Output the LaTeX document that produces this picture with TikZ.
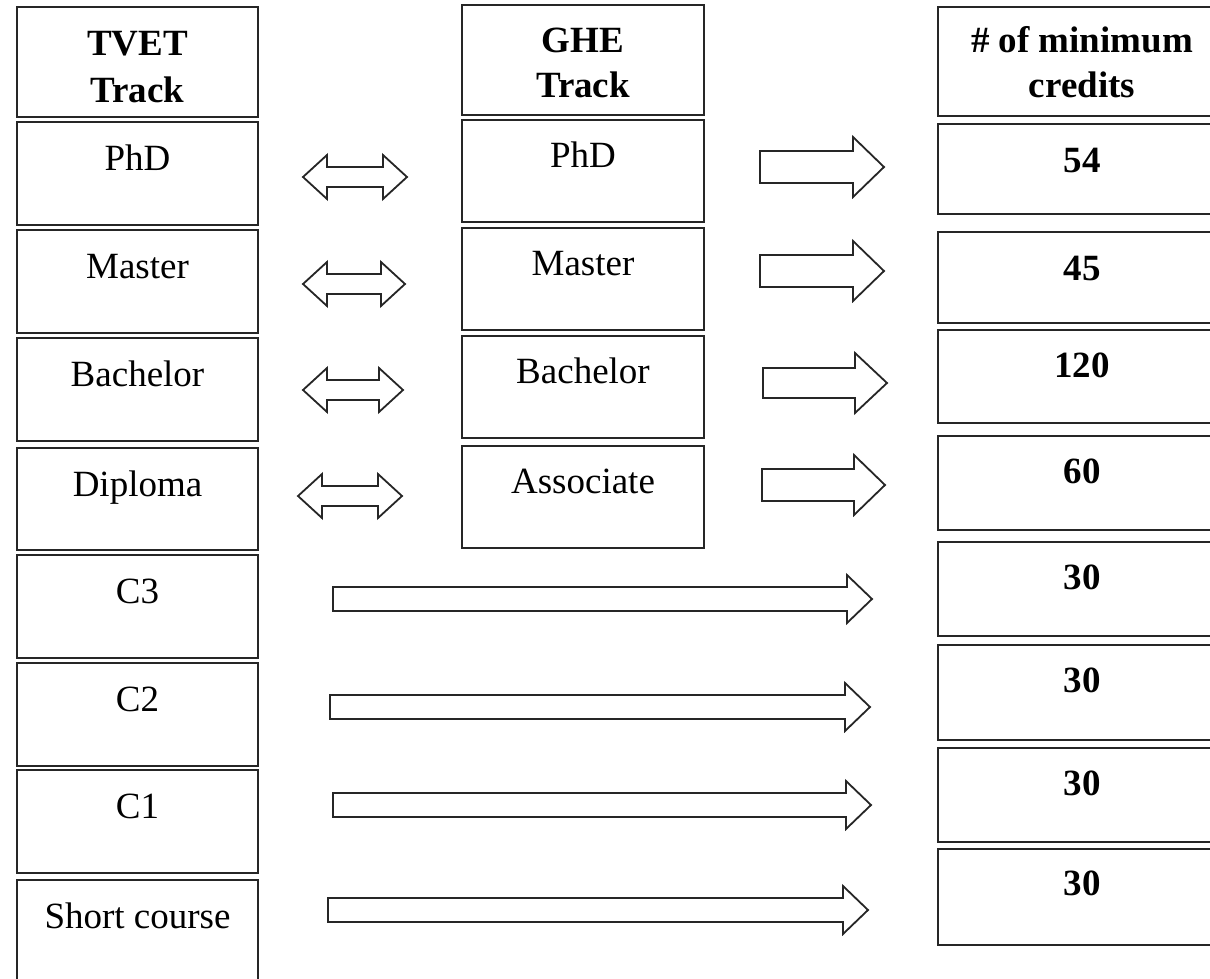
\documentclass[tikz,border=0pt]{standalone}
\usepackage{fontspec}
\setmainfont{Liberation Serif}
\begin{document}
\begin{tikzpicture}[x=1pt,y=-1pt,
  box/.style={draw=black!85, line width=2pt, rectangle, inner sep=0pt, outer sep=0pt},
  lbl/.style={inner sep=0pt, anchor=base, font=\fontsize{37}{46}\selectfont},
  blbl/.style={lbl, font=\fontsize{37}{46}\selectfont\bfseries},
  arr/.style={draw=black!85, line width=1.8pt, fill=white, line join=miter}]
\useasboundingbox (0,0) rectangle (1210,978);
\clip (0,0) rectangle (1210,978);

% box macro: name, x1, y1, x2, y2
\newcommand\mkbox[5]{%
  \node[box, minimum width={#4-#2}, minimum height={#5-#3}] (#1) at ({(#2+#4)/2},{(#3+#5)/2}) {};}
% right block arrow: x1, x2, yc, shaft half, head half, head length
\newcommand\rblock[6]{%
  \draw[arr] (#1,#3-#4) -- (#2-#6,#3-#4) -- (#2-#6,#3-#5) -- (#2,#3)
    -- (#2-#6,#3+#5) -- (#2-#6,#3+#4) -- (#1,#3+#4) -- cycle;}
% double block arrow
\newcommand\dblock[6]{%
  \draw[arr] (#1,#3) -- (#1+#6,#3-#5) -- (#1+#6,#3-#4) -- (#2-#6,#3-#4) -- (#2-#6,#3-#5) -- (#2,#3)
    -- (#2-#6,#3+#5) -- (#2-#6,#3+#4) -- (#1+#6,#3+#4) -- (#1+#6,#3+#5) -- cycle;}

% ---------- left column (TVET) ----------
\mkbox{L0}{17}{7}{258}{117}
\mkbox{L1}{17}{122}{258}{225}
\mkbox{L2}{17}{230}{258}{333}
\mkbox{L3}{17}{338}{258}{441}
\mkbox{L4}{17}{448}{258}{550}
\mkbox{L5}{17}{555}{258}{658}
\mkbox{L6}{17}{663}{258}{766}
\mkbox{L7}{17}{770}{258}{873}
\mkbox{L8}{17}{880}{258}{995}
\node[blbl] (L0a) at ([yshift=-48pt]L0.north) {TVET};
\node[blbl] (L0b) at ([yshift=-95pt]L0.north) {Track};
\node[lbl] (L1t) at ([yshift=-48pt]L1.north) {PhD};
\node[lbl] (L2t) at ([yshift=-48pt]L2.north) {Master};
\node[lbl] (L3t) at ([yshift=-48pt]L3.north) {Bachelor};
\node[lbl] (L4t) at ([yshift=-48pt]L4.north) {Diploma};
\node[lbl] (L5t) at ([yshift=-48pt]L5.north) {C3};
\node[lbl] (L6t) at ([yshift=-48pt]L6.north) {C2};
\node[lbl] (L7t) at ([yshift=-48pt]L7.north) {C1};
\node[lbl] (L8t) at ([yshift=-48pt]L8.north) {Short course};

% ---------- middle column (GHE) ----------
\mkbox{M0}{462}{5}{704}{115}
\mkbox{M1}{462}{120}{704}{222}
\mkbox{M2}{462}{228}{704}{330}
\mkbox{M3}{462}{336}{704}{438}
\mkbox{M4}{462}{446}{704}{548}
\node[blbl] (M0a) at ([yshift=-47pt]M0.north) {GHE};
\node[blbl] (M0b) at ([yshift=-92pt]M0.north) {Track};
\node[lbl] (M1t) at ([yshift=-47pt]M1.north) {PhD};
\node[lbl] (M2t) at ([yshift=-47pt]M2.north) {Master};
\node[lbl] (M3t) at ([yshift=-47pt]M3.north) {Bachelor};
\node[lbl] (M4t) at ([yshift=-47pt]M4.north) {Associate};

% ---------- right column (credits) ----------
\mkbox{R0}{938}{7}{1226}{116}
\mkbox{R1}{938}{124}{1226}{214}
\mkbox{R2}{938}{232}{1226}{323}
\mkbox{R3}{938}{330}{1226}{423}
\mkbox{R4}{938}{436}{1226}{530}
\mkbox{R5}{938}{542}{1226}{636}
\mkbox{R6}{938}{645}{1226}{740}
\mkbox{R7}{938}{748}{1226}{842}
\mkbox{R8}{938}{849}{1226}{945}
\node[blbl] (R0a) at ([yshift=-45pt]R0.north) {\# of minimum};
\node[blbl] (R0b) at ([yshift=-90pt]R0.north) {credits};
\node[blbl] (R1t) at ([yshift=-48pt]R1.north) {54};
\node[blbl] (R2t) at ([yshift=-48pt]R2.north) {45};
\node[blbl] (R3t) at ([yshift=-47pt]R3.north) {120};
\node[blbl] (R4t) at ([yshift=-47pt]R4.north) {60};
\node[blbl] (R5t) at ([yshift=-47pt]R5.north) {30};
\node[blbl] (R6t) at ([yshift=-47pt]R6.north) {30};
\node[blbl] (R7t) at ([yshift=-47pt]R7.north) {30};
\node[blbl] (R8t) at ([yshift=-46pt]R8.north) {30};

% ---------- double arrows TVET <-> GHE ----------
\dblock{303}{407}{177}{10}{22}{24}
\dblock{303}{405}{284}{10}{22}{24}
\dblock{303}{403}{390}{10}{22}{24}
\dblock{298}{402}{496}{10}{22}{24}

% ---------- arrows GHE -> credits ----------
\rblock{760}{884}{167}{16}{30}{31}
\rblock{760}{884}{271}{16}{30}{31}
\rblock{763}{887}{383}{15}{30}{32}
\rblock{762}{885}{485}{16}{30}{31}

% ---------- long arrows TVET -> credits ----------
\rblock{333}{872}{599}{12}{24}{25}
\rblock{330}{870}{707}{12}{24}{25}
\rblock{333}{871}{805}{12}{24}{25}
\rblock{328}{868}{910}{12}{24}{25}
\end{tikzpicture}
\end{document}
